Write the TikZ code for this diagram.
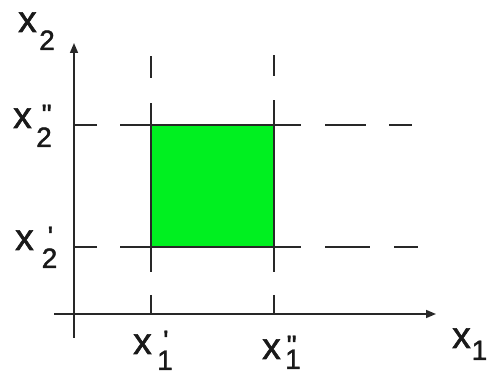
\documentclass[tikz,border=0pt]{standalone}
\usepackage{fontspec}
\setmainfont{Liberation Sans}[Ligatures=TeXOff,FakeBold=1.5]
\usetikzlibrary{arrows.meta}

\definecolor{boxgreen}{RGB}{0,240,32}
\definecolor{linegray}{RGB}{40,40,40}

% x, then subscript #1 (kern #2, drop #3), primes #4 over it (kern #5)
\newcommand{\xlab}[5]{{\fontsize{37}{37}\selectfont x}\kern#2{\fontsize{28}{28}\selectfont\rlap{\raisebox{4pt}{\kern#5#4}}\raisebox{-#3}{#1}}}

\tikzset{
  axisline/.style={draw=linegray,line width=1.6pt,-{Triangle[length=10pt,width=8pt]}},
  gridline/.style={draw=linegray,line width=1.5pt},
  lbl/.style={inner sep=0pt,anchor=base west,text=black!90}
}

\begin{document}
\begin{tikzpicture}[x=1pt,y=-1pt]
\useasboundingbox (0,0) rectangle (488,371);

% axes
\coordinate (o) at (74,314);
\coordinate (ytop) at (74,43);
\coordinate (ybot) at (74,338);
\coordinate (xleft) at (54,314);
\coordinate (xright) at (436,314);
\draw[axisline] (ybot) -- (ytop);
\draw[axisline] (xleft) -- (xright);

% the box
\coordinate (a) at (151,247);
\coordinate (b) at (274,247);
\coordinate (c) at (274,125);
\coordinate (d) at (151,125);
\filldraw[fill=boxgreen,gridline] (a) rectangle (c);

% dashed guide lines
\draw[gridline,dash pattern=on 31pt off 23pt] (d) -- (d -| o);
\draw[gridline,dash pattern=on 31pt off 23pt] (a) -- (a -| o);
\coordinate (r2) at (412,125);
\coordinate (r1) at (418,247);
\draw[gridline,dash pattern=on 27pt off 24pt on 41pt off 23pt] (c) -- (r2);
\draw[gridline,dash pattern=on 27pt off 24pt on 45pt off 24pt] (b) -- (r1);
\coordinate (t1) at (151,54);
\coordinate (t2) at (274,55);
\draw[gridline,dash pattern=on 22pt off 25pt] (d) -- (t1);
\draw[gridline,dash pattern=on 25pt off 24pt] (c) -- (t2);
\draw[gridline,dash pattern=on 25pt off 23pt] (a) -- (a |- o);
\draw[gridline,dash pattern=on 25pt off 23pt] (b) -- (b |- o);

% labels
\node[lbl] (xtwo) at (18,32) {\xlab{2}{2.5pt}{18pt}{}{0pt}};
\node[lbl] (xtwob) at (13,128) {\xlab{2}{4.5pt}{19pt}{"}{5.5pt}};
\node[lbl] (xtwoa) at (15,250) {\xlab{2}{8pt}{18pt}{'}{6pt}};
\node[lbl] (xonea) at (133,354) {\xlab{1}{5.5pt}{16pt}{'}{6pt}};
\node[lbl] (xoneb) at (262,359) {\xlab{1}{4.5pt}{10pt}{"}{1.5pt}};
\node[lbl] (xone) at (452,348) {\xlab{1}{1pt}{12pt}{}{0pt}};
\end{tikzpicture}
\end{document}
